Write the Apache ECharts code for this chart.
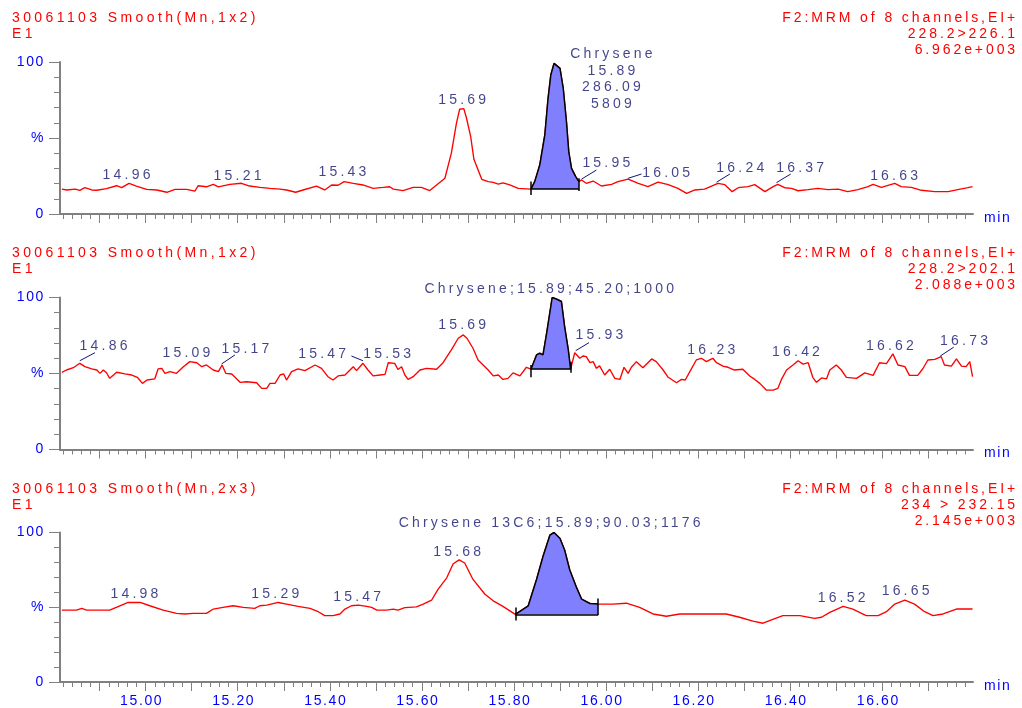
<!DOCTYPE html>
<html>
<head>
<meta charset="utf-8">
<script src="https://cdn.jsdelivr.net/npm/echarts@6.0.0/dist/echarts.min.js"></script>
<style>html,body{margin:0;padding:0;background:#fff;}#c{width:1022px;height:708px;}</style>
</head>
<body>
<div id="c"></div>
<script>
// ---------------- DATA ----------------
const TICK_LABELS = ['15.00','15.20','15.40','15.60','15.80','16.00','16.20','16.40','16.60'];
const Y_LABELS = ['0', '%', '100'];

const TITLE1_LEFT = ['30061103 Smooth(Mn,1x2)', 'E1'];
const TITLE1_RIGHT = ['F2:MRM of 8 channels,EI+', '228.2>226.1', '6.962e+003'];
const TITLE2_LEFT = ['30061103 Smooth(Mn,1x2)', 'E1'];
const TITLE2_RIGHT = ['F2:MRM of 8 channels,EI+', '228.2>202.1', '2.088e+003'];
const TITLE3_LEFT = ['30061103 Smooth(Mn,2x3)', 'E1'];
const TITLE3_RIGHT = ['F2:MRM of 8 channels,EI+', '234 > 232.15', '2.145e+003'];

// Panel 1: 228.2>226.1
const P1_T = [14.818,14.829,14.847,14.857,14.868,14.883,14.894,14.915,14.937,14.948,14.964,14.980,15.002,15.024,15.046,15.064,15.089,15.107,15.114,15.132,15.147,15.158,15.183,15.208,15.226,15.248,15.270,15.292,15.306,15.326,15.342,15.371,15.389,15.404,15.418,15.431,15.451,15.472,15.494,15.516,15.530,15.538,15.559,15.581,15.599,15.617,15.632,15.650,15.664,15.675,15.682,15.691,15.697,15.706,15.713,15.730,15.744,15.755,15.766,15.776,15.791,15.809,15.837,15.845,15.856,15.867,15.874,15.880,15.887,15.891,15.900,15.907,15.914,15.919,15.925,15.934,15.941,15.947,15.957,15.972,15.990,16.012,16.026,16.048,16.070,16.091,16.113,16.135,16.156,16.175,16.193,16.214,16.243,16.258,16.274,16.287,16.308,16.323,16.345,16.363,16.373,16.388,16.403,16.417,16.439,16.460,16.482,16.504,16.525,16.547,16.569,16.580,16.598,16.627,16.641,16.663,16.685,16.714,16.743,16.764,16.786,16.796];
const P1_V = [16.4,15.8,16.4,15.6,17.3,15.8,15.6,16.7,18.6,17.3,20.2,18.4,16.2,15.8,14.3,16.2,16.2,15.1,18.6,17.9,19.5,17.9,19.5,20.2,18.4,17.5,16.9,16.4,15.8,14.3,15.8,18.4,15.8,19.1,18.9,21.3,20.2,19.1,16.9,17.5,17.9,16.4,15.4,17.5,17.5,15.4,19.1,23.5,40,59.6,68.9,69.3,63,50.9,36,22.8,21.3,20.8,19.7,20.5,19.1,16.9,16.4,21.3,32.2,52,76,91.4,99.1,100,95.8,82.7,60.7,41,30,24.6,21.3,22.4,20.2,21.7,18.4,19.5,21.3,23,20.2,18,21,19.3,16.9,13.6,15.8,16.4,20.2,19.3,14.7,17.3,18,19.3,14.7,18,19.5,17.3,16.9,15.3,16,16.9,16,16.4,14.7,16,18,19.5,17.5,20.2,18,17.5,15.6,14.7,14.7,16,17.3,18];

// Panel 2: 228.2>202.1
const P2_T = [14.818,14.828,14.843,14.857,14.868,14.883,14.894,14.901,14.908,14.915,14.922,14.937,14.955,14.970,14.982,14.993,15.003,15.020,15.027,15.035,15.042,15.053,15.067,15.082,15.096,15.111,15.122,15.132,15.147,15.158,15.166,15.174,15.187,15.205,15.219,15.241,15.252,15.263,15.270,15.281,15.292,15.300,15.306,15.317,15.331,15.346,15.368,15.382,15.396,15.407,15.418,15.433,15.451,15.458,15.472,15.483,15.494,15.509,15.520,15.527,15.541,15.548,15.556,15.563,15.570,15.581,15.596,15.610,15.632,15.646,15.664,15.679,15.690,15.698,15.711,15.722,15.733,15.744,15.755,15.766,15.776,15.787,15.798,15.813,15.827,15.837,15.849,15.856,15.863,15.871,15.883,15.892,15.903,15.910,15.918,15.923,15.932,15.943,15.950,15.957,15.965,15.972,15.979,15.986,15.997,16.008,16.019,16.030,16.039,16.048,16.055,16.066,16.080,16.099,16.109,16.124,16.135,16.153,16.164,16.172,16.182,16.196,16.207,16.218,16.225,16.232,16.240,16.254,16.265,16.279,16.297,16.312,16.323,16.334,16.348,16.363,16.373,16.381,16.392,16.406,16.417,16.428,16.439,16.449,16.457,16.468,16.479,16.486,16.500,16.511,16.522,16.544,16.562,16.580,16.594,16.609,16.623,16.634,16.649,16.659,16.677,16.688,16.699,16.714,16.728,16.735,16.750,16.761,16.772,16.782,16.790,16.796];
const P2_V = [50.8,52.3,53.8,56.7,54.5,53,52.3,50.1,52.3,50.5,46.8,50.8,49.7,49,47.5,43.5,45.7,46.5,53,53.4,50.1,51.2,50.1,54.5,57.8,57.1,54.5,55.6,52.3,51.2,55.6,50.1,49.7,44.2,44.6,43.9,40.2,40.2,43.5,43.5,49,49.7,45.7,51.2,53,51.9,55.6,53.4,47.9,45.7,48.4,49,54.5,51.9,56.7,52.3,48.4,49,49.4,57.1,56.7,52.6,54.5,49,46.1,47.9,52.3,53.4,52.8,57.1,65.5,73.2,75.4,73.2,66.6,58.9,55.6,52.3,48.4,49,46.1,46.8,50.4,48.4,54.1,52.8,62.2,63.3,62.2,76.5,100,99,97.4,80.9,65.5,52.8,63.7,60,61.5,61.1,57.1,57.8,53.4,55,49,52.8,46.8,46.1,54.1,50.1,54.1,57.8,53.8,59.6,57.8,52.3,47.5,43.9,46.1,45.7,51.2,58.9,60,57.8,58.9,60,57.1,54.9,54.1,52.3,52.8,48.4,46.1,43.5,39.1,39.1,40.2,46.1,52.3,55.6,58.4,56.2,57.1,47.5,44.2,47.1,46.5,52.3,55.6,52.3,47.5,46.8,50.4,48.8,57.1,56.5,62.9,55.6,54.5,48.8,48.8,53.1,58.9,59.3,61.1,55.6,54.9,59.6,54.9,54.5,57.8,47.9];

// Panel 3: 234 > 232.15
const P3_T = [14.818,14.850,14.861,14.872,14.922,14.944,14.962,14.988,15.009,15.038,15.067,15.085,15.103,15.132,15.147,15.168,15.190,15.212,15.237,15.248,15.263,15.288,15.306,15.331,15.357,15.375,15.389,15.407,15.422,15.433,15.447,15.462,15.480,15.491,15.502,15.523,15.538,15.548,15.563,15.588,15.603,15.621,15.635,15.654,15.668,15.681,15.693,15.711,15.737,15.755,15.776,15.803,15.831,15.849,15.863,15.878,15.887,15.900,15.910,15.921,15.936,15.947,15.965,15.983,16.015,16.044,16.073,16.102,16.131,16.160,16.203,16.261,16.290,16.319,16.341,16.355,16.384,16.421,16.453,16.468,16.486,16.515,16.536,16.565,16.591,16.609,16.627,16.649,16.670,16.692,16.710,16.732,16.761,16.796];
const P3_V = [48.1,48.1,49.2,48.1,48.1,51,53.2,53.2,51,48.1,45.9,45.5,45.9,45.9,48.8,49.9,51,49.9,49.2,51,51.4,53.2,52.1,50.6,49.2,47,44.4,44.4,45.5,48.8,51,51.4,50.6,49.9,48.1,48.1,48.8,48.1,49.7,50.3,52.1,54.7,62,69.7,79.1,81.7,79.6,68.6,58.7,54.3,50.6,45.2,51,68.6,83.9,98.2,100,96,88.3,75.1,63.1,55.4,52.5,52.1,52.1,52.7,49.9,45.5,44,45.5,45.5,45.5,43.3,40.7,39.3,41.1,44.4,44.4,42.6,43.3,46.6,50.6,48.8,44.4,44.4,47,52.1,54.7,52.1,47,44.4,45.5,48.8,48.8];

// integrated peaks: [start time, end time, baseline %]
const P1_PEAK = [15.837, 15.941, 16.4];
const P2_PEAK = [15.837, 15.923, 52.8];
const P3_PEAK = [15.803, 15.983, 45.2];

// peak annotation texts
const P1_LABELS = ['14.96','15.21','15.43','15.69','Chrysene\n15.89\n286.09\n5809','15.95','16.05','16.24','16.37','16.63'];
const P2_LABELS = ['14.86','15.09','15.17','15.47','15.53','15.69','Chrysene;15.89;45.20;1000','15.93','16.23','16.42','16.62','16.73'];
const P3_LABELS = ['14.98','15.29','15.47','15.68','Chrysene 13C6;15.89;90.03;1176','16.52','16.65'];

// ---------------- LAYOUT / STYLE ----------------
const X_MIN = 14.814, X_MAX = 16.797;
const RED = '#ff0000', RED_R = '#fe0000', BLUE = '#0000ff', NAVY = '#14146e', AXIS = '#808080', FILL = '#8080ff';
const FONT = '"Liberation Sans", Arial, sans-serif';
const SPACING = { '#ff0000': '3.4px', '#fe0000': '2.9px', '#0000ff': '1.6px', '#14146e': '3.2px' };

// MassLynx-like wide text: letter spacing by text colour
(function () {
  const proto = CanvasRenderingContext2D.prototype;
  if (!('letterSpacing' in proto)) return;
  const orig = proto.fillText;
  proto.fillText = function () {
    const sp = SPACING[String(this.fillStyle).toLowerCase()];
    if (sp) {
      const prev = this.letterSpacing;
      this.letterSpacing = sp;
      const r = orig.apply(this, arguments);
      this.letterSpacing = prev;
      return r;
    }
    return orig.apply(this, arguments);
  };
})();

function ticksEvery(step) {
  const out = [];
  for (let k = Math.ceil(X_MIN / step - 1e-9); k * step <= X_MAX + 1e-9; k++) out.push(+(k * step).toFixed(4));
  return out;
}
const MINOR_TICKS = ticksEvery(0.02);
const MAJOR_TICKS = ticksEvery(0.1);
const LABEL_VALUES = TICK_LABELS.map(Number);

const PANELS = [
  { top: 62,    titleTop: 10,  left: TITLE1_LEFT, right: TITLE1_RIGHT, T: P1_T, V: P1_V, peak: P1_PEAK,
    labels: P1_LABELS,
    labelPos: [[14.962,25.7],[15.203,25],[15.431,27.6],[15.691,75],[16.015,88.8],[16.004,33.6],[16.134,27],[16.295,30.3],[16.425,30.3],[16.629,25]],
    leaders: [[[15.892,100.8],[15.917,100.8]],[[15.947,23.0],[15.979,28.9]],[[16.048,23.5],[16.077,26.3]],[[16.240,20.9],[16.269,26.3]],[[16.370,20.6],[16.401,26.3]]],
    ticks: [[12.5,21.3],[15.1,23.5]] },
  { top: 297.5, titleTop: 245, left: TITLE2_LEFT, right: TITLE2_RIGHT, T: P2_T, V: P2_V, peak: P2_PEAK,
    labels: P2_LABELS,
    labelPos: [[14.912,68.1],[15.092,63.5],[15.220,66.2],[15.387,62.9],[15.528,62.9],[15.691,82],[15.880,105.7],[15.989,75.4],[16.232,65.5],[16.416,64.2],[16.620,68.1],[16.781,71.5]],
    leaders: [[[14.857,58.4],[14.890,63.7]],[[15.165,56.3],[15.194,62.2]],[[15.447,61.5],[15.472,58.4]],[[15.934,65],[15.963,70.3]],[[16.726,61.5],[16.755,67.3]]],
    ticks: [[47.5,55.6],[50.5,57.8]] },
  { top: 532.5, titleTop: 481, left: TITLE3_LEFT, right: TITLE3_RIGHT, T: P3_T, V: P3_V, peak: P3_PEAK,
    labels: P3_LABELS,
    labelPos: [[14.979,58.7],[15.285,58.7],[15.463,56.7],[15.680,87],[15.881,106.1],[16.515,56],[16.654,60.6]],
    leaders: [],
    ticks: [[41.1,49.9],[44.8,55.8]] }
];

const grid = [], xAxis = [], yAxis = [], series = [], graphic = [];
PANELS.forEach((p, i) => {
  const bottomPanel = i === PANELS.length - 1;
  grid.push({ left: 60, top: p.top, width: 913, height: 152, containLabel: false });
  // main x axis: line + minor ticks + "min"
  xAxis.push({
    gridIndex: i, type: 'value', position: 'bottom', min: X_MIN, max: X_MAX,
    axisLine: { show: true, onZero: false, lineStyle: { color: AXIS, width: 2 } },
    axisTick: { show: true, customValues: MINOR_TICKS, length: 5, lineStyle: { color: AXIS, width: 1 } },
    axisLabel: { show: false }, splitLine: { show: false },
    name: 'min', nameLocation: 'end', nameGap: 11,
    nameTextStyle: { color: BLUE, fontSize: 14, fontFamily: FONT, verticalAlign: 'top', lineHeight: 8 }
  });
  // major ticks + tick labels
  xAxis.push({
    gridIndex: i, type: 'value', position: 'bottom', min: X_MIN, max: X_MAX,
    axisLine: { show: false },
    axisTick: { show: true, customValues: MAJOR_TICKS, length: 9, lineStyle: { color: AXIS, width: 1 } },
    axisLabel: {
      show: bottomPanel, customValues: LABEL_VALUES, margin: 12,
      color: BLUE, fontSize: 14, fontFamily: FONT, padding: [0, 8, 0, 0],
      formatter: v => { const k = LABEL_VALUES.findIndex(x => Math.abs(x - v) < 1e-6); return k >= 0 ? TICK_LABELS[k] : ''; }
    },
    splitLine: { show: false }
  });
  yAxis.push({
    gridIndex: i, type: 'value', position: 'left', min: 0, max: 100, interval: 10,
    axisLine: { show: true, onZero: false, lineStyle: { color: AXIS, width: 2 } },
    axisTick: { show: true, length: 6, lineStyle: { color: AXIS, width: 1 } },
    axisLabel: { show: false }, splitLine: { show: false }
  });
  yAxis.push({
    gridIndex: i, type: 'value', position: 'left', min: 0, max: 100, interval: 50,
    axisLine: { show: false, onZero: false },
    axisTick: { show: true, length: 11, lineStyle: { color: AXIS, width: 1 } },
    axisLabel: { show: true, margin: 15, color: BLUE, fontSize: 14, fontFamily: FONT,
      formatter: v => Y_LABELS[Math.round(v / 50)] },
    splitLine: { show: false }
  });
  const xi = 2 * i, yi = 2 * i;
  const pts = p.T.map((t, k) => [t, p.V[k]]);
  series.push({
    type: 'line', xAxisIndex: xi, yAxisIndex: yi, data: pts, symbol: 'none', smooth: false,
    lineStyle: { color: RED, width: 1.35 }, z: 2, silent: true
  });
  const [ps, pe, base] = p.peak;
  const peakPts = pts.filter(d => d[0] >= ps - 1e-9 && d[0] <= pe + 1e-9);
  series.push({
    type: 'line', xAxisIndex: xi, yAxisIndex: yi, data: peakPts, symbol: 'none',
    lineStyle: { color: '#000', width: 1.5 },
    areaStyle: { color: FILL, opacity: 1, origin: base }, z: 3, silent: true,
    markLine: {
      silent: true, symbol: ['none', 'none'], animation: false,
      lineStyle: { color: '#000', width: 1.5, type: 'solid' }, label: { show: false },
      data: [
        [{ coord: [ps, base] }, { coord: [pe, base] }],
        [{ coord: [ps, p.ticks[0][0]] }, { coord: [ps, p.ticks[0][1]] }],
        [{ coord: [pe, p.ticks[1][0]] }, { coord: [pe, p.ticks[1][1]] }]
      ]
    }
  });
  series.push({
    type: 'scatter', xAxisIndex: xi, yAxisIndex: yi, clip: false, silent: true,
    symbolSize: 1, itemStyle: { color: 'rgba(0,0,0,0)' },
    data: p.labels.map((s, k) => ({ name: s, value: p.labelPos[k] })),
    label: { show: true, position: 'inside', formatter: '{b}', color: NAVY, fontSize: 14,
      fontFamily: FONT, lineHeight: 16.5, align: 'center', verticalAlign: 'middle' },
    z: 5,
    markLine: {
      silent: true, symbol: ['none', 'none'], animation: false,
      lineStyle: { color: NAVY, width: 1, type: 'solid' }, label: { show: false },
      data: p.leaders.map(seg => [{ coord: seg[0] }, { coord: seg[1] }])
    }
  });
  graphic.push({
    type: 'text', x: 12, y: p.titleTop, silent: true,
    style: { text: p.left.join('\n'), fill: RED, fontSize: 14, fontFamily: FONT, lineHeight: 16,
      align: 'left', textAlign: 'left', verticalAlign: 'top', textVerticalAlign: 'top' }
  });
  graphic.push({
    type: 'text', x: 1018, y: p.titleTop, silent: true,
    style: { text: p.right.join('\n'), fill: RED_R, fontSize: 14, fontFamily: FONT, lineHeight: 16,
      align: 'right', textAlign: 'right', verticalAlign: 'top', textVerticalAlign: 'top' }
  });
});

const chart = echarts.init(document.getElementById('c'), null, { renderer: 'canvas' });
chart.setOption({
  backgroundColor: '#ffffff',
  animation: false,
  grid, xAxis, yAxis, series, graphic
});
</script>
</body>
</html>
